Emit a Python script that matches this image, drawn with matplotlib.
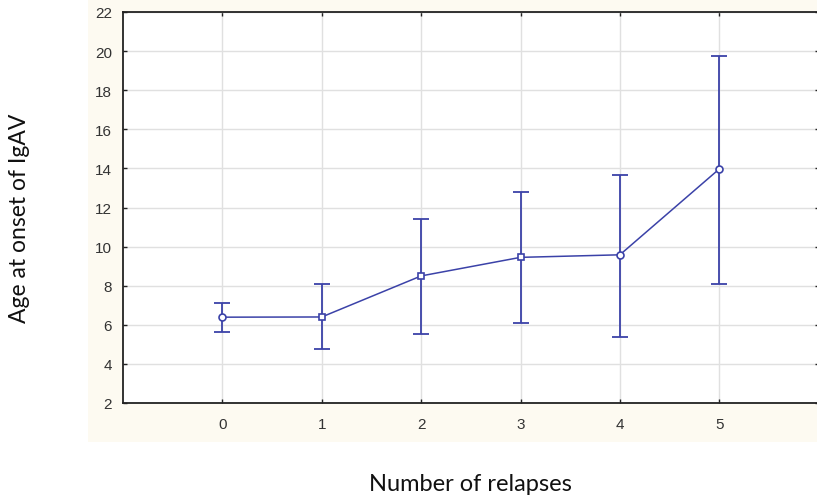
import matplotlib
matplotlib.use("Agg")
import matplotlib.pyplot as plt
from matplotlib.patches import Rectangle

relapses = [0, 1, 2, 3, 4, 5]
mean_age = [6.39, 6.40, 8.50, 9.45, 9.58, 13.97]
upper = [7.11, 8.09, 11.43, 12.81, 13.66, 19.76]
lower = [5.61, 4.74, 5.54, 6.10, 5.39, 8.09]
markers = ["o", "s", "s", "s", "o", "o"]
yticks = [2, 4, 6, 8, 10, 12, 14, 16, 18, 20, 22]
xticks = [0, 1, 2, 3, 4, 5]

blue = "#3b42a8"
fig = plt.figure(figsize=(8.17, 5.02), dpi=100)
fig.patch.set_facecolor("white")
fig.add_artist(Rectangle((88/817, 1-443/502), 1-88/817, 443/502,
                         transform=fig.transFigure, facecolor="#fdfaf1",
                         edgecolor="none", zorder=0))

ax = fig.add_axes([123/817, 1-404/502, 1-123/817+0.002, (404-13)/502])
ax.set_facecolor("white")
ax.set_zorder(1)

ax.plot(relapses, mean_age, color=blue, lw=1.1, zorder=3)
yerr = [[m - l for m, l in zip(mean_age, lower)], [u - m for m, u in zip(mean_age, upper)]]
ax.errorbar(relapses, mean_age, yerr=yerr, fmt="none", ecolor=blue,
            elinewidth=1.3, capsize=6, capthick=1.3, zorder=3)
for x, y, mk in zip(relapses, mean_age, markers):
    ax.plot([x], [y], marker=mk, ms=5, mfc="white", mec=blue, mew=1.2, zorder=4)

ax.set_xlim(-1, 6)
ax.set_ylim(2, 22)
ax.set_xticks(xticks)
ax.set_yticks(yticks)
ax.grid(True, color="#e0e0e0", lw=1.0, zorder=0)
ax.set_axisbelow(True)
for s in ax.spines.values():
    s.set_color("#222222")
    s.set_linewidth(1.3)
ax.tick_params(direction="in", length=3, width=1, color="#222222",
               top=True, right=True, labelsize=11, labelcolor="#333333", pad=8)
ax.tick_params(axis="x", pad=10)
for lab in ax.get_xticklabels() + ax.get_yticklabels():
    lab.set_fontfamily("Liberation Sans")

fig.text(20/817, 1-218/502, "Age at onset of IgAV", rotation=90, ha="center",
         va="center", fontsize=16.5, family="Lato", color="#111111")
fig.text(470/817, 1-485/502, "Number of relapses", ha="center", va="center",
         fontsize=17, family="Lato", color="#111111")

fig.savefig("out.png", dpi=100)
